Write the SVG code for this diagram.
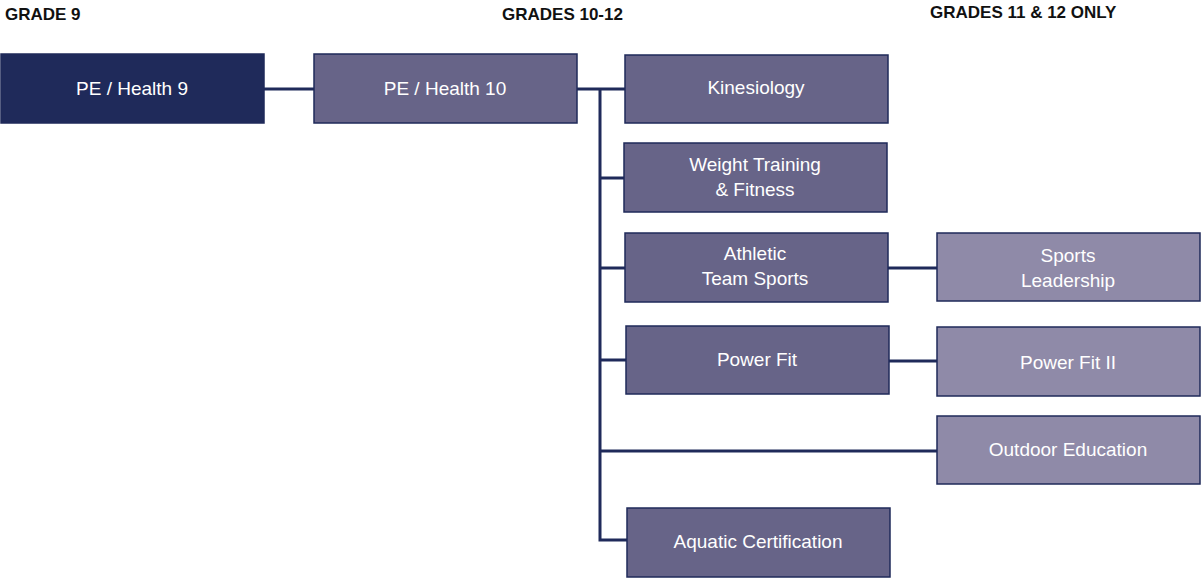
<svg xmlns="http://www.w3.org/2000/svg" width="1202" height="579" viewBox="0 0 1202 579">
<style>
.h{font-family:"Liberation Sans",Arial,sans-serif;font-weight:bold;font-size:17px;fill:#111}
.b rect{stroke:#1f2a5a;stroke-width:1.5}
.m rect{fill:#676488}
.l rect{fill:#8f8aa8}
.b text{font-family:"Liberation Sans",Arial,sans-serif;font-size:19px;fill:#fff;text-anchor:middle}
.c{stroke:#1f2a5a;stroke-width:3;fill:none}
</style>
<rect width="1202" height="579" fill="#fff"/>
<text class="h" x="5" y="20">GRADE 9</text>
<text class="h" x="502" y="20">GRADES 10-12</text>
<text class="h" x="930" y="18">GRADES 11 &amp; 12 ONLY</text>
<g id="connectors" class="c">
<path d="M264 89H314M577 89H625M600 89V540H627M600 178H624M600 268H625M600 360H626M600 451H937M888 268H937M889 361H937"/>
</g>
<g id="pe9" class="b"><rect x="1" y="54" width="263" height="69" fill="#1f2a5a"/><text x="132" y="95">PE / Health 9</text></g>
<g id="pe10" class="b m"><rect x="314" y="54" width="263" height="69"/><text x="445" y="95">PE / Health 10</text></g>
<g id="kin" class="b m"><rect x="625" y="55" width="263" height="68"/><text x="756" y="94">Kinesiology</text></g>
<g id="wt" class="b m"><rect x="624" y="143" width="263" height="69"/><text x="755" y="171">Weight Training</text><text x="755" y="196">&amp; Fitness</text></g>
<g id="ath" class="b m"><rect x="625" y="233" width="263" height="69"/><text x="755" y="260">Athletic</text><text x="755" y="285">Team Sports</text></g>
<g id="sl" class="b l"><rect x="937" y="233" width="263" height="68"/><text x="1068" y="262">Sports</text><text x="1068" y="287">Leadership</text></g>
<g id="pf" class="b m"><rect x="626" y="326" width="263" height="68"/><text x="757" y="366">Power Fit</text></g>
<g id="pf2" class="b l"><rect x="937" y="327" width="263" height="69"/><text x="1068" y="369">Power Fit II</text></g>
<g id="oe" class="b l"><rect x="937" y="416" width="263" height="68"/><text x="1068" y="456">Outdoor Education</text></g>
<g id="aq" class="b m"><rect x="627" y="508" width="263" height="69"/><text x="758" y="548">Aquatic Certification</text></g>
</svg>
